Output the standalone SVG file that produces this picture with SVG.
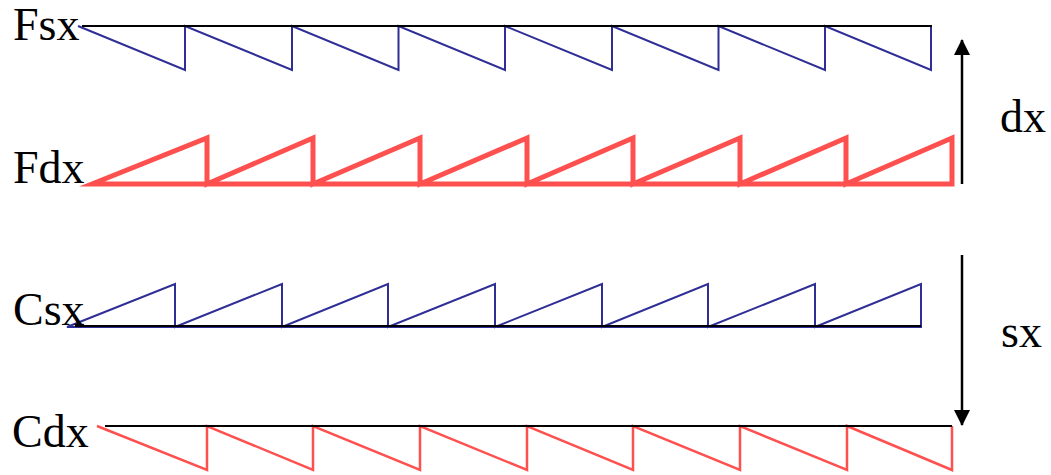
<svg xmlns="http://www.w3.org/2000/svg" width="1051" height="475" viewBox="0 0 1051 475">
<style>
.lbl{font-family:"Liberation Serif","Times New Roman",serif;font-size:46px;fill:#000}
.blue{fill:none;stroke:#2e2e96;stroke-width:2;stroke-linejoin:miter}
.redthin{fill:none;stroke:#ff5050;stroke-width:2.5}
.redthick{fill:none;stroke:#ff5050;stroke-width:5;stroke-linejoin:miter;stroke-miterlimit:10}
.axis{stroke:#000;stroke-width:2;fill:none}
.arr{stroke:#000;stroke-width:2.5;fill:none}
</style>
<defs>
<marker id="ah" viewBox="0 0 16 16" refX="15" refY="8" markerWidth="16" markerHeight="16" markerUnits="userSpaceOnUse" orient="auto">
<path d="M0,0 L16,8 L0,16 Z" fill="#000"/>
</marker>
</defs>
<g id="Fsx">
<path class="blue" d="M78,26 L185,70 L185,26 L292,70 L292,26 L398.5,70 L398.5,26 L505,70 L505,26 L612,70 L612,26 L718.5,70 L718.5,26 L825,70 L825,26 L931,70 L931,26"/>
<line class="axis" x1="82" y1="26" x2="932" y2="26"/>
<text class="lbl" x="13" y="40">Fsx</text>
</g>
<g id="Fdx">
<path class="redthick" d="M92,184 L207,138 L207,184 L313,138 L313,184 L420,138 L420,184 L527,138 L527,184 L633,138 L633,184 L740,138 L740,184 L846,138 L846,184 L952,138 L952,184 Z"/>
<text class="lbl" x="13" y="183">Fdx</text>
</g>
<g id="Csx">
<path class="blue" d="M67,327 L175,284 L175,327 L282,284 L282,327 L388,284 L388,327 L495,284 L495,327 L602,284 L602,327 L708,284 L708,327 L815,284 L815,327 L921,284 L921,327 Z"/>
<line class="axis" x1="75" y1="326" x2="921" y2="326"/>
<text class="lbl" x="13" y="325">Csx</text>
</g>
<g id="Cdx">
<path class="redthin" d="M97,426 L207,470 L207,426 L313,470 L313,426 L420,470 L420,426 L527,470 L527,426 L633,470 L633,426 L740,470 L740,426 L847,470 L847,426 L952,470 L952,426"/>
<line class="axis" x1="105" y1="426" x2="952" y2="426"/>
<text class="lbl" x="12" y="447">Cdx</text>
</g>
<g id="connectors">
<line class="arr" x1="962" y1="184" x2="962" y2="40" marker-end="url(#ah)"/>
<line class="arr" x1="962" y1="255" x2="962" y2="425" marker-end="url(#ah)"/>
</g>
<text class="lbl" x="1000" y="132">dx</text>
<text class="lbl" x="1001" y="347">sx</text>
</svg>
